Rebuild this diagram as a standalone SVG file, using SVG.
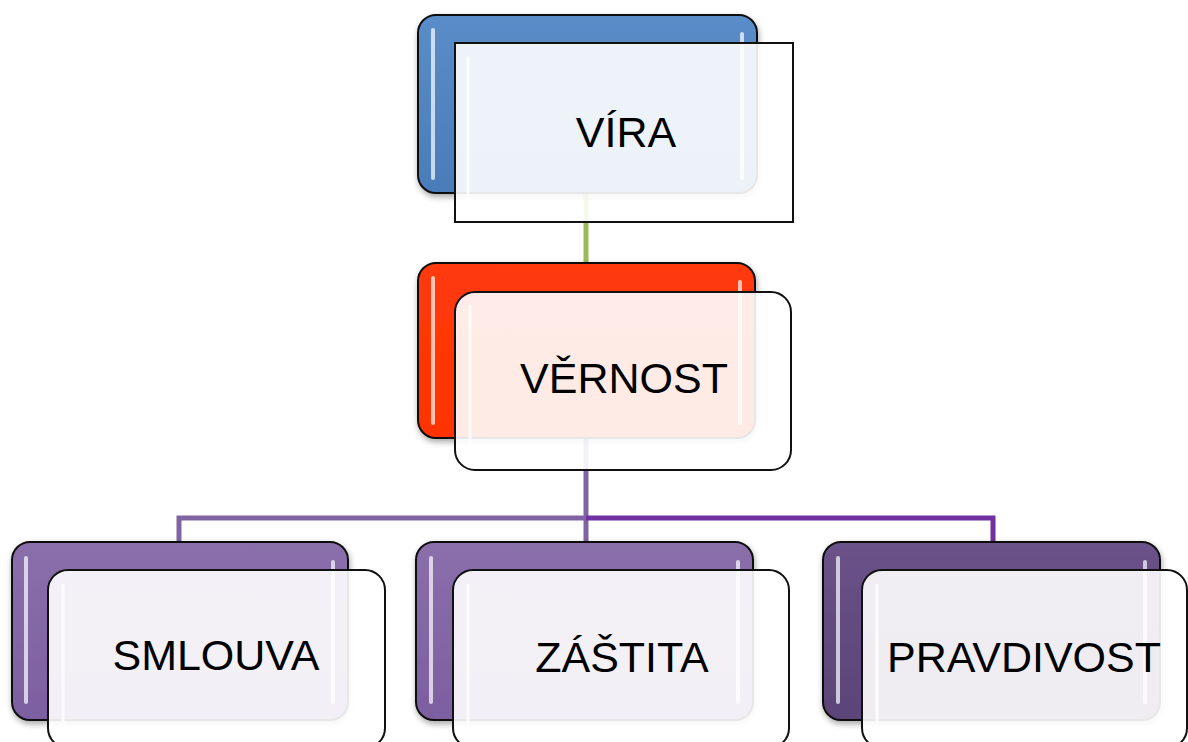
<svg xmlns="http://www.w3.org/2000/svg" width="1188" height="742" viewBox="0 0 1188 742">
  <defs>
    <linearGradient id="gBlue" x1="0" y1="0" x2="0" y2="1">
      <stop offset="0" stop-color="#5a8cc8"/>
      <stop offset="1" stop-color="#4a7cb9"/>
    </linearGradient>
    <linearGradient id="gRed" x1="0" y1="0" x2="0" y2="1">
      <stop offset="0" stop-color="#ff3a0a"/>
      <stop offset="1" stop-color="#ff3300"/>
    </linearGradient>
    <linearGradient id="gPurple" x1="0" y1="0" x2="0" y2="1">
      <stop offset="0" stop-color="#8a6fab"/>
      <stop offset="1" stop-color="#7c5fa0"/>
    </linearGradient>
    <linearGradient id="gDark" x1="0" y1="0" x2="0" y2="1">
      <stop offset="0" stop-color="#6a5288"/>
      <stop offset="1" stop-color="#5b4478"/>
    </linearGradient>
    <filter id="shadow" x="-10%" y="-10%" width="120%" height="125%">
      <feGaussianBlur in="SourceAlpha" stdDeviation="3"/>
      <feOffset dx="1" dy="3" result="b"/>
      <feComponentTransfer><feFuncA type="linear" slope="0.35"/></feComponentTransfer>
      <feMerge><feMergeNode/><feMergeNode in="SourceGraphic"/></feMerge>
    </filter>
  </defs>
  <style>
    .back { stroke: #111; stroke-width: 2; }
    .front { fill: #ffffff; fill-opacity: 0.9; stroke: #111; stroke-width: 2; }
    .gloss { stroke: #ffffff; stroke-opacity: 0.7; stroke-width: 4; stroke-linecap: round; }
    .gloss2 { stroke: #ffffff; stroke-opacity: 0.8; stroke-width: 3; stroke-linecap: round; }
    .label { font-family: "Liberation Sans", Arial, sans-serif; font-size: 43px; fill: #000; text-anchor: middle; }
    .conn { fill: none; stroke-width: 5; }
  </style>

  <rect width="1188" height="742" fill="#ffffff"/>

  <!-- connectors -->
  <g id="connectors">
    <line class="conn" x1="586" y1="190" x2="586" y2="265" stroke="#9bbb59"/>
    <line class="conn" x1="586" y1="438" x2="586" y2="544" stroke="#8064a2"/>
    <polyline class="conn" points="179,544 179,518 586,518" stroke="#8064a2"/>
    <polyline class="conn" points="586,518 993,518 993,544" stroke="#7030a0"/>
  </g>

  <!-- top node -->
  <g id="node-vira">
    <rect class="back" x="418" y="15" width="339" height="178" rx="18" fill="url(#gBlue)" filter="url(#shadow)"/>
    <line class="gloss" x1="433" y1="30" x2="433" y2="178"/>
    <line class="gloss" x1="742" y1="34" x2="742" y2="178"/>
    <rect class="front" x="455" y="43" width="338" height="179"/>
    <line class="gloss2" x1="468" y1="58" x2="468" y2="206"/>
    <text class="label" x="626" y="147">VÍRA</text>
  </g>

  <!-- middle node -->
  <g id="node-vernost">
    <rect class="back" x="418" y="263" width="337" height="175" rx="18" fill="url(#gRed)" filter="url(#shadow)"/>
    <line class="gloss" x1="433" y1="278" x2="433" y2="423"/>
    <line class="gloss" x1="740" y1="282" x2="740" y2="423"/>
    <rect class="front" x="455" y="292" width="336" height="178" rx="20"/>
    <line class="gloss2" x1="470" y1="306" x2="470" y2="455"/>
    <text class="label" x="624" y="393">VĚRNOST</text>
  </g>

  <!-- bottom row -->
  <g id="node-smlouva">
    <rect class="back" x="12" y="542" width="336" height="178" rx="18" fill="url(#gPurple)" filter="url(#shadow)"/>
    <line class="gloss" x1="26" y1="558" x2="26" y2="702"/>
    <line class="gloss" x1="333" y1="562" x2="333" y2="702"/>
    <rect class="front" x="48" y="570" width="337" height="178" rx="20"/>
    <line class="gloss2" x1="63" y1="585" x2="63" y2="730"/>
    <text class="label" x="216" y="670">SMLOUVA</text>
  </g>

  <g id="node-zastita">
    <rect class="back" x="416" y="542" width="337" height="178" rx="18" fill="url(#gPurple)" filter="url(#shadow)"/>
    <line class="gloss" x1="431" y1="558" x2="431" y2="702"/>
    <line class="gloss" x1="738" y1="562" x2="738" y2="702"/>
    <rect class="front" x="453" y="570" width="336" height="178" rx="20"/>
    <line class="gloss2" x1="468" y1="585" x2="468" y2="730"/>
    <text class="label" x="622" y="672">ZÁŠTITA</text>
  </g>

  <g id="node-pravdivost">
    <rect class="back" x="823" y="542" width="337" height="178" rx="18" fill="url(#gDark)" filter="url(#shadow)"/>
    <line class="gloss" x1="838" y1="558" x2="838" y2="702"/>
    <line class="gloss" x1="1145" y1="562" x2="1145" y2="702"/>
    <rect class="front" x="862" y="570" width="325" height="178" rx="20"/>
    <line class="gloss2" x1="877" y1="585" x2="877" y2="730"/>
    <text class="label" x="1024" y="672">PRAVDIVOST</text>
  </g>
</svg>
